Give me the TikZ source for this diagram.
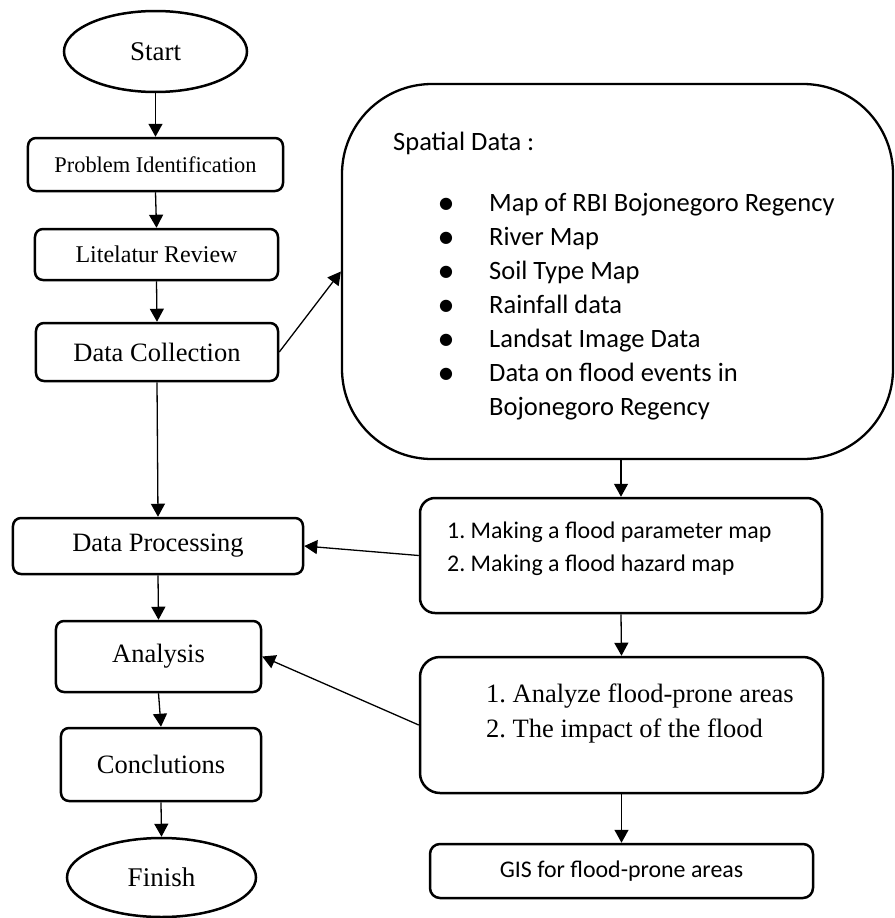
\documentclass[tikz,border=0pt]{standalone}
\usepackage{fontspec}
\setmainfont{Liberation Serif}
\newfontfamily\calibrifont{Carlito}
\newfontfamily\dejavufont{DejaVu Sans}
\usetikzlibrary{arrows.meta,shapes.geometric}
\frenchspacing
\newcommand{\bul}{\llap{\makebox[86bp]{\raisebox{2.5bp}{\dejavufont\fontsize{16bp}{18bp}\selectfont ●}}}}
\tikzset{
  box/.style={draw, line width=2.5bp, rounded corners=8bp, inner sep=0pt, align=center,
    font=\fontsize{26.5bp}{30bp}\selectfont},
  term/.style={ellipse, draw, line width=2.5bp, inner sep=0pt,
    font=\fontsize{27bp}{30bp}\selectfont},
  conn/.style={line width=1.3bp, -{Triangle[length=13bp,width=14bp]}},
  txt/.style={inner sep=0pt, anchor=base west}
}
\begin{document}
\begin{tikzpicture}[x=1bp,y=-1bp]
\useasboundingbox (0,0) rectangle (895,918);
% left column
\node[term, minimum width=183bp, minimum height=81bp] (start) at (155.5,51.5) {Start};
\node[box, minimum width=255bp, minimum height=53bp, font=\fontsize{22.4bp}{26bp}\selectfont] (pi) at (155.5,164.5) {Problem Identification};
\node[box, minimum width=243bp, minimum height=51bp, font=\fontsize{24bp}{28bp}\selectfont] (lr) at (156.5,254.5) {Litelatur Review};
\node[box, minimum width=242bp, minimum height=58bp] (dc) at (157,352) {Data Collection};
\node[box, minimum width=290bp, minimum height=56bp] (dp) at (158,546) {Data Processing};
\node[box, minimum width=205bp, minimum height=71bp] (ana) at (158.5,656.5) {Analysis};
\node[box, minimum width=200bp, minimum height=73bp] (conc) at (161,764.5) {Conclutions};
\node[term, minimum width=189bp, minimum height=79bp] (fin) at (161.5,877.5) {Finish};
% right column
\node[draw, line width=2.3bp, rounded corners=90bp, minimum width=551bp, minimum height=375bp, inner sep=0pt] (sp) at (617.5,271.5) {};
\node[txt, font=\calibrifont\fontsize{26.5bp}{34bp}\selectfont] (sphead) at (393,150) {Spatial Data :};
\node[txt, font=\calibrifont\fontsize{26.5bp}{34bp}\selectfont] (splist) at (489,211) {%
  \begin{tabular}[t]{@{}l@{}}
  \bul Map of RBI Bojonegoro Regency\\
  \bul River Map\\
  \bul Soil Type Map\\
  \bul Rainfall data\\
  \bul Landsat Image Data\\
  \bul Data on flood events in\\
  Bojonegoro Regency
  \end{tabular}};
\node[draw, line width=2.5bp, rounded corners=15bp, minimum width=402bp, minimum height=115bp, inner sep=0pt] (b1) at (621,555.5) {};
\node[txt, font=\calibrifont\fontsize{23.9bp}{33bp}\selectfont] (b1t) at (447,538) {%
  \begin{tabular}[t]{@{}l@{}}
  1. Making a flood parameter map\\
  2. Making a flood hazard map
  \end{tabular}};
\node[draw, line width=2.5bp, rounded corners=20bp, minimum width=403bp, minimum height=136bp, inner sep=0pt] (b2) at (621.5,725) {};
\node[txt, font=\fontsize{26.5bp}{35bp}\selectfont] (b2t) at (486,702) {%
  \begin{tabular}[t]{@{}l@{}}
  1. Analyze flood-prone areas\\
  2. The impact of the flood
  \end{tabular}};
\node[box, rounded corners=10bp, minimum width=383bp, minimum height=54bp, font=\calibrifont\fontsize{23.9bp}{28bp}\selectfont] (gis) at (621.5,871) {GIS for flood-prone areas};
% connectors
\draw[conn] (start.south) -- (pi.north);
\draw[conn] (pi.south) -- (lr.north);
\draw[conn] (lr.south) -- (dc.north);
\draw[conn] (dc.south) -- (dp.north);
\draw[conn] (dp.south) -- (ana.north);
\draw[conn] (ana.south) -- (conc.north);
\draw[conn] (conc.south) -- (fin.north);
\draw[conn] (dc.east) -- (sp.west);
\draw[conn] (b1.north |- sp.south) -- (b1.north);
\draw[conn] (b1.west) -- (dp.east);
\draw[conn] (b1.south) -- (b2.north);
\draw[conn] (b2.west) -- (ana.east);
\draw[conn] (b2.south) -- (gis.north);
\end{tikzpicture}
\end{document}
